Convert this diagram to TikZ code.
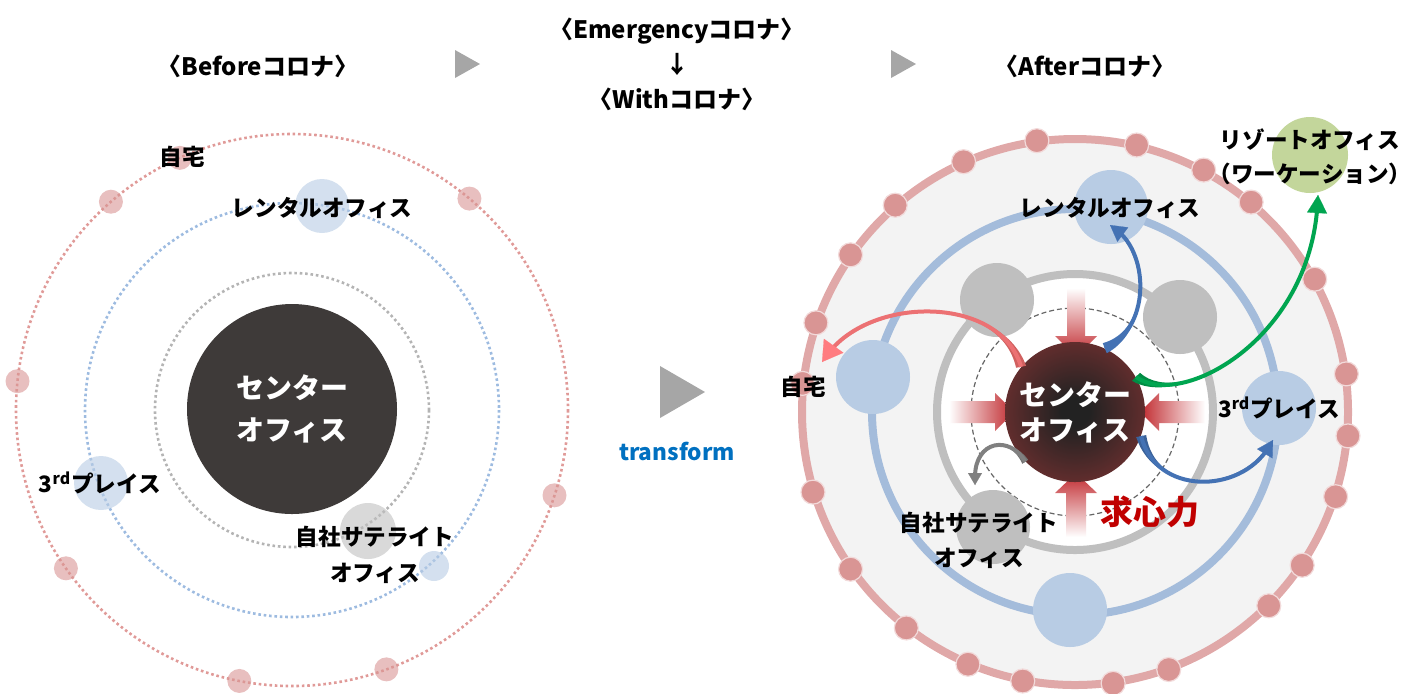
\documentclass[tikz,border=0pt]{standalone}
\usepackage{fontspec}
\setmainfont{Noto Sans CJK JP}
\usetikzlibrary{arrows.meta,calc}

\definecolor{hubgray}{HTML}{3E3A39}
\definecolor{hubcore}{HTML}{222222}
\definecolor{hubrim}{HTML}{7D3232}
\definecolor{ringred}{HTML}{E09A98}
\definecolor{ringblue}{HTML}{9DBBE0}
\definecolor{ringgray}{HTML}{B4B4B4}
\definecolor{dotred}{HTML}{D99594}
\definecolor{ballblue}{HTML}{B8CCE4}
\definecolor{ballgray}{HTML}{BFBFBF}
\definecolor{ballgreen}{HTML}{C3D69B}
\definecolor{roserim}{HTML}{E0A8A8}
\definecolor{bluerim}{HTML}{A4BCDB}
\definecolor{haze}{HTML}{F3F3F3}
\definecolor{pullred}{HTML}{C0282D}
\definecolor{arcred}{HTML}{D0605F}
\definecolor{arcpink}{HTML}{FF7C80}
\definecolor{arcblue}{HTML}{4472B4}
\definecolor{arcgreen}{HTML}{00A550}
\definecolor{stepgray}{HTML}{A6A6A6}
\definecolor{tfblue}{HTML}{0070C0}
\definecolor{forcered}{HTML}{C00000}

\pgfdeclareradialshading{hubglow}{\pgfpoint{0bp}{0bp}}{color(0bp)=(hubcore); color(5bp)=(hubcore); color(34bp)=(hubrim); color(50bp)=(hubrim)}

\newcommand\lbl{\fontsize{11.3}{18}\selectfont\bfseries}
\newcommand\head{\fontsize{12}{17.5}\selectfont\bfseries}

\begin{document}
\begin{tikzpicture}[x=0.5pt, y=-0.5pt,
    every node/.style={font=\lbl, inner sep=0pt},
    orbit/.style={line width=1.3pt, dash pattern=on 1.3pt off 1.4pt},
    pdot/.style={circle, minimum size=12pt, fill=dotred, fill opacity=0.6},
    bball/.style={circle, fill=ballblue, fill opacity=0.6},
    rdot/.style={circle, minimum size=12pt, fill=dotred, draw=white!65!dotred, line width=0.6pt},
    ball/.style={circle, minimum size=37pt},
    swoop/.style={line width=2pt, shorten >=4pt},
    swooptip/.style={line width=0.1pt},
    tri/.style={fill=stepgray}]
  \useasboundingbox (0,0) rectangle (1416,693);

  % headings
  \node[font=\head] (hBefore) at (258,66) {〈Beforeコロナ〉};
  \node[font=\head, align=center] (hMid) at (677,64) {〈Emergencyコロナ〉\\↓\\〈Withコロナ〉};
  \node[font=\head] (hAfter) at (1085,66) {〈Afterコロナ〉};
  \fill[tri] (455,50) -- (480,64) -- (455,78) -- cycle;
  \fill[tri] (891,50) -- (916,64) -- (891,78) -- cycle;

  % before
  \coordinate (cB) at (292,410);
  \draw[orbit, draw=ringred] (cB) circle [radius=276];
  \draw[orbit, draw=ringblue] (cB) circle [radius=207];
  \draw[orbit, draw=ringgray] (cB) circle [radius=137];
  \begin{scope}[shift={(cB)}]
    \foreach \a in {246,229,186,-50,18,145,101,70}
      \node[pdot] at (\a:276) {};
  \end{scope}
  \node[bball, minimum size=27pt] (rentB) at (322,206) {};
  \node[bball, minimum size=27pt] (thirdB) at (101,483) {};
  \node[bball, minimum size=15pt] (smallB) at (434,566) {};
  \node[circle, minimum size=28pt, fill=ballgray, fill opacity=0.6] (satB) at (368,531) {};
  \node[circle, minimum size=105pt, fill=hubgray, text=white, align=center,
        font=\fontsize{14}{21}\selectfont\bfseries] (hubB) at (292,409) {センター\\オフィス};

  \node (homeBl) at (182,157) {自宅};
  \node (rentBl) at (322,208) {レンタルオフィス};
  \node (thirdBl) at (100,483) {3\textsuperscript{rd}プレイス};
  \node[align=center] (satBl) at (375,555) {自社サテライト\\オフィス};

  % transform
  \fill[tri] (660,366) -- (705,392) -- (660,418) -- cycle;
  \node[text=tfblue] (tf) at (677,451) {transform};

  % after
  \coordinate (cA) at (1075,412);
  \filldraw[fill=haze, draw=roserim, line width=4pt] (cA) circle [radius=273];
  \draw[draw=bluerim, line width=4pt] (cA) circle [radius=203];
  \filldraw[fill=white, draw=ballgray, line width=4pt] (cA) circle [radius=138];
  \draw[draw=black!60, line width=0.6pt, dash pattern=on 2.5pt off 1.5pt] (cA) circle [radius=104];
  \begin{scope}[shift={(cA)}]
    \foreach \a in {-98,-77,-62,-50,-29,-8,5,18,34,45,70,82,101,113,128,145,163,186,199,215,229,246}
      \node[rdot] at (\a:274) {};
  \end{scope}
  \node[ball, fill=ballblue] (homeA) at (873,377) {};
  \node[ball, fill=ballblue] (rentA) at (1111,207) {};
  \node[ball, fill=ballblue] (thirdA) at (1279,408) {};
  \node[ball, fill=ballblue] (lowA) at (1070,610) {};
  \node[ball, fill=ballgray] (gTL) at (997,300) {};
  \node[ball, fill=ballgray] (gTR) at (1180,317) {};
  \node[ball, fill=ballgray] (satA) at (993,527) {};
  \node[ball, minimum size=38pt, fill=ballgreen] (resortA) at (1310,155) {};

  % pull arrows
  \shade[top color=white, bottom color=pullred] (1067,288) -- (1085,288) -- (1085,336) -- (1097,336) -- (1076,357) -- (1055,336) -- (1067,336) -- cycle;
  \shade[top color=pullred, bottom color=white] (1066,537) -- (1086,537) -- (1086,493) -- (1097,493) -- (1076,473) -- (1055,493) -- (1066,493) -- cycle;
  \shade[left color=white, right color=pullred] (949,401) -- (995,401) -- (995,393) -- (1014,412) -- (995,431) -- (995,423) -- (949,423) -- cycle;
  \shade[left color=pullred, right color=white] (1205,401) -- (1159,401) -- (1159,393) -- (1140,412) -- (1159,431) -- (1159,423) -- (1205,423) -- cycle;

  \node[circle, minimum size=70pt, shade, shading=hubglow, text=white, align=center,
        font=\fontsize{14}{17.5}\selectfont\bfseries] (hubA) at (1075,412) {センター\\オフィス};

  % swoops
  \coordinate (homeTip) at (822,362);
  \coordinate (rentTip) at (1110,225);
  \coordinate (resortTip) at (1318,195);
  \coordinate (thirdTip) at (1273,440);
  \coordinate (satTip) at (975,485);
  % red to home
  \fill[arcred] ($(hubA.140)+(5,-1)$) .. controls (1000,295) and (870,295) .. (homeTip)
    .. controls (870,295) and (1000,295) .. ($(hubA.140)+(-5,1)$) -- cycle;
  \draw[swoop, draw=arcred!40!arcpink] (hubA.140) .. controls (1000,295) and (870,295) .. (homeTip);
  \draw[swooptip, arcpink, -{Triangle[length=10pt, width=12pt]}] ($(homeTip)!1pt!(870,295)$) -- (homeTip);
  % blue to rental office
  \fill[arcblue] ($(hubA.65)+(2,5)$) .. controls (1150,330) and (1150,255) .. (rentTip)
    .. controls (1150,255) and (1150,330) .. ($(hubA.65)+(-2,-5)$) -- cycle;
  \draw[swoop, draw=arcblue] (hubA.65) .. controls (1150,330) and (1150,255) .. (rentTip);
  \draw[swooptip, arcblue, -{Triangle[length=8pt, width=9pt]}] ($(rentTip)!1pt!(1150,255)$) -- (rentTip);
  % green to resort office
  \fill[arcgreen!85!black] ($(hubA.30)+(4,-4)$) .. controls (1180,410) and (1310,340) .. (resortTip)
    .. controls (1310,340) and (1180,410) .. ($(hubA.30)+(-4,4)$) -- cycle;
  \draw[swoop, draw=arcgreen] (hubA.30) .. controls (1180,410) and (1310,340) .. (resortTip);
  \draw[swooptip, arcgreen, -{Triangle[length=9pt, width=10pt]}] ($(resortTip)!1pt!(1310,340)$) -- (resortTip);
  % blue to 3rd place
  \fill[arcblue!85!black] ($(hubA.-20)+(5,-1)$) .. controls (1155,495) and (1240,495) .. (thirdTip)
    .. controls (1240,495) and (1155,495) .. ($(hubA.-20)+(-5,1)$) -- cycle;
  \draw[swoop, draw=arcblue] (hubA.-20) .. controls (1155,495) and (1240,495) .. (thirdTip);
  \draw[swooptip, arcblue, -{Triangle[length=8pt, width=9pt]}] ($(thirdTip)!1pt!(1240,495)$) -- (thirdTip);
  % gray to satellite
  \fill[black!55] ($(hubA.225)+(3,-2)$) .. controls (1010,435) and (975,440) .. (satTip)
    .. controls (975,440) and (1010,435) .. ($(hubA.225)+(-3,2)$) -- cycle;
  \draw[swoop, draw=black!50] (hubA.225) .. controls (1010,435) and (975,440) .. (satTip);
  \draw[swooptip, black!50, -{Triangle[length=6pt, width=7pt]}] ($(satTip)!1pt!(975,440)$) -- (satTip);

  \node[align=center, font=\fontsize{11.3}{17}\selectfont\bfseries] (resortAl) at (1310,157) {リゾートオフィス\\（ワーケーション）};
  \node (rentAl) at (1110,208) {レンタルオフィス};
  \node (homeAl) at (803,387) {自宅};
  \node (thirdAl) at (1279,408) {3\textsuperscript{rd}プレイス};
  \node[align=center, font=\fontsize{11.3}{17.5}\selectfont\bfseries] (satAl) at (979,540) {自社サテライト\\オフィス};
  \node[text=forcered, font=\fontsize{16.5}{20}\selectfont\bfseries] (force) at (1150,512) {求心力};
\end{tikzpicture}
\end{document}
